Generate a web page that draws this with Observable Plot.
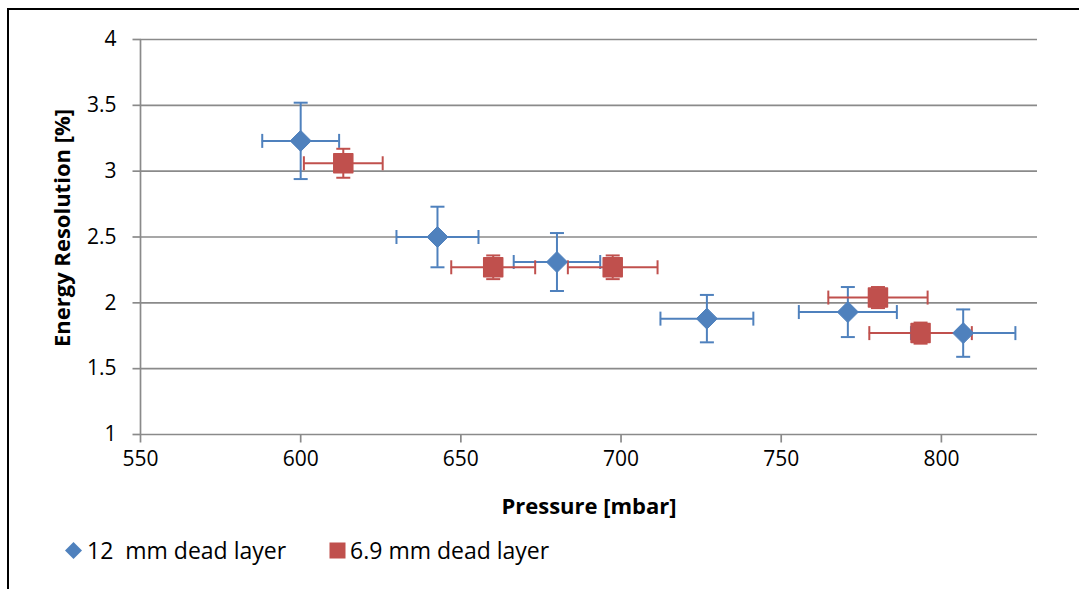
<!DOCTYPE html>
<html>
<head>
<meta charset="utf-8">
<script src="https://cdn.jsdelivr.net/npm/d3@7"></script>
<script src="https://cdn.jsdelivr.net/npm/@observablehq/plot@0.6"></script>
<style>
  html, body { margin: 0; padding: 0; background: #fff; }
  #wrap { position: relative; width: 1079px; height: 589px; overflow: hidden; font-family: "Open Sans", Lato, sans-serif; }
  #frame { position: absolute; left: 7px; top: 8px; right: -10px; bottom: -10px; border-left: 2px solid #000; border-top: 2px solid #000; }
  #chart { position: absolute; left: 0; top: 0; }
  #legend { position: absolute; left: 64px; top: 534px; display: flex; align-items: center; font-size: 23px; line-height: 32px; color: #000; }
  #legend .item { display: flex; align-items: center; }
  #legend svg { display: block; }
</style>
</head>
<body>
<div id="wrap">
  <div id="frame"></div>
  <div id="chart"></div>
  <div id="legend"></div>
</div>
<script>
// Energy resolution vs. gas pressure for two dead-layer thicknesses
const seriesNames = ["12  mm dead layer", "6.9 mm dead layer"];
const seriesColors = ["#4f81bd", "#c0504d"];

// 12 mm dead layer
const pressure12 = [600.0, 642.7, 680.0, 726.8, 770.8, 806.8];
const resolution12 = [3.23, 2.50, 2.31, 1.88, 1.93, 1.77];
const pressureErr12 = [12.0, 12.8, 13.5, 14.5, 15.3, 16.3];
const resolutionErr12 = [0.29, 0.23, 0.22, 0.18, 0.19, 0.18];

// 6.9 mm dead layer
const pressure69 = [613.3, 660.1, 697.4, 780.2, 793.5];
const resolution69 = [3.06, 2.27, 2.27, 2.04, 1.77];
const pressureErr69 = [12.3, 13.1, 14.0, 15.5, 16.0];
const resolutionErr69 = [0.11, 0.09, 0.09, 0.08, 0.08];

// axes
const xDomain = [550, 830];
const yDomain = [1, 4];
const xTicks = [550, 600, 650, 700, 750, 800];
const yTicks = [1, 1.5, 2, 2.5, 3, 3.5, 4];
const xLabel = "Pressure [mbar]";
const yLabel = "Energy Resolution [%]";

const rows = [
  ...pressure12.map((x, i) => ({s: 0, x, y: resolution12[i], xe: pressureErr12[i], ye: resolutionErr12[i]})),
  ...pressure69.map((x, i) => ({s: 1, x, y: resolution69[i], xe: pressureErr69[i], ye: resolutionErr69[i]}))
];

// custom symbols: r = sqrt(size / PI)
const rad = (size) => Math.sqrt(size / Math.PI);
const vLine = {draw(c, size) { const r = rad(size); c.moveTo(0, -r); c.lineTo(0, r); }};
const hLine = {draw(c, size) { const r = rad(size); c.moveTo(-r, 0); c.lineTo(r, 0); }};
const diamond = {draw(c, size) { const r = rad(size); c.moveTo(0, -r); c.lineTo(r, 0); c.lineTo(0, r); c.lineTo(-r, 0); c.closePath(); }};
const square = {draw(c, size) { const r = rad(size); c.rect(-r, -r, 2 * r, 2 * r); }};

const grid = "#8a8a8a";
const font = "'Open Sans', Lato, sans-serif";

const marks = [
  // horizontal gridlines
  Plot.ruleY(yTicks, {stroke: grid, strokeWidth: 1.7}),
  // vertical axis line
  Plot.ruleX([xDomain[0]], {y1: yDomain[0], y2: yDomain[1], stroke: grid, strokeWidth: 1.7}),
  // tick marks
  Plot.dot(yTicks, {x: () => xDomain[0], y: d => d, symbol: hLine, r: 4, dx: -4, stroke: grid, strokeWidth: 1.7}),
  Plot.dot(xTicks, {x: d => d, y: () => yDomain[0], symbol: vLine, r: 4, dy: 4, stroke: grid, strokeWidth: 1.7}),
  // tick labels
  Plot.text(yTicks, {x: () => xDomain[0], y: d => d, text: d => String(d), textAnchor: "end", dx: -24, fontSize: 21, fill: "#000"}),
  Plot.text(xTicks, {x: d => d, y: () => yDomain[0], text: d => String(d), dy: 25, fontSize: 21, fill: "#000"}),
  // axis titles
  Plot.text([xLabel], {frameAnchor: "bottom", textAnchor: "middle", dy: 79, fontSize: 22, fontWeight: "bold", fill: "#000"}),
  Plot.text([yLabel], {frameAnchor: "left", textAnchor: "middle", dx: -78, dy: -9, rotate: -90, fontSize: 22, fontWeight: "bold", fill: "#000"})
];

for (const s of [0, 1]) {
  const data = rows.filter(d => d.s === s);
  const color = seriesColors[s];
  marks.push(
    Plot.ruleY(data, {y: "y", x1: d => d.x - d.xe, x2: d => d.x + d.xe, stroke: color, strokeWidth: 2}),
    Plot.ruleX(data, {x: "x", y1: d => d.y - d.ye, y2: d => d.y + d.ye, stroke: color, strokeWidth: 2}),
    Plot.dot(data, {x: d => d.x - d.xe, y: "y", symbol: vLine, r: 7, stroke: color, strokeWidth: 2}),
    Plot.dot(data, {x: d => d.x + d.xe, y: "y", symbol: vLine, r: 7, stroke: color, strokeWidth: 2}),
    Plot.dot(data, {x: "x", y: d => d.y + d.ye, symbol: hLine, r: 7, stroke: color, strokeWidth: 2}),
    Plot.dot(data, {x: "x", y: d => d.y - d.ye, symbol: hLine, r: 7, stroke: color, strokeWidth: 2})
  );
}
marks.push(
  Plot.dot(rows.filter(d => d.s === 0), {x: "x", y: "y", symbol: diamond, r: 10.5, fill: seriesColors[0], stroke: seriesColors[0], strokeWidth: 1, strokeLinejoin: "round"}),
  Plot.dot(rows.filter(d => d.s === 1), {x: "x", y: "y", symbol: square, r: 9.5, fill: seriesColors[1], stroke: seriesColors[1], strokeWidth: 1.5, strokeLinejoin: "round"})
);

const chart = Plot.plot({
  width: 1079,
  height: 530,
  marginLeft: 140,
  marginRight: 42,
  marginTop: 39,
  marginBottom: 96,
  style: {fontFamily: font, background: "transparent", overflow: "visible"},
  x: {domain: xDomain, axis: null},
  y: {domain: yDomain, axis: null},
  marks
});
document.getElementById("chart").appendChild(chart);

// legend below the plot
const legend = document.getElementById("legend");
const swatches = [
  `<svg width="19" height="19"><path d="M9.5,1L18,9.5L9.5,18L1,9.5Z" fill="${seriesColors[0]}"/></svg>`,
  `<svg width="17" height="17"><rect x="0.5" y="0.5" width="16" height="16" fill="${seriesColors[1]}"/></svg>`
];
seriesNames.forEach((name, i) => {
  const item = document.createElement("div");
  item.className = "item";
  item.style.marginRight = i === 0 ? "43px" : "0";
  item.innerHTML = swatches[i] + `<span style="margin-left:4px;white-space:pre">${name}</span>`;
  legend.appendChild(item);
});
</script>
</body>
</html>
